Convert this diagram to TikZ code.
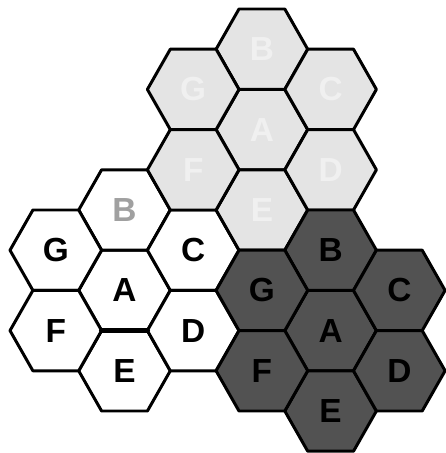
\documentclass[tikz,border=0pt]{standalone}
\usepackage{fontspec}
\setmainfont{Liberation Sans}
\usepackage{tikz}
\usetikzlibrary{calc}
\definecolor{cellink}{RGB}{0,0,0}
\definecolor{darkfill}{RGB}{82,82,82}
\definecolor{lightfill}{RGB}{228,228,228}
\definecolor{fadedtxt}{RGB}{160,160,160}
\definecolor{ghosttxt}{RGB}{240,240,240}
\tikzset{
  hexline/.style={draw=cellink, line width=1.7pt, line join=round},
  celltxt/.style={font=\fontsize{19}{19}\selectfont\bfseries, inner sep=0pt},
  reuseedge/.style={draw=cellink, line width=3pt, line cap=round}
}
% one hexagonal cell: name, centre, fill
\newcommand{\hexcell}[3]{%
  \coordinate (#1) at (#2);
  \draw[hexline, fill=#3]
    ($(#1)+(-45.8,0)$) -- ($(#1)+(-22.9,-40.2)$) -- ($(#1)+(22.9,-40.2)$)
    -- ($(#1)+(45.8,0)$) -- ($(#1)+(22.9,40.2)$) -- ($(#1)+(-22.9,40.2)$) -- cycle;}

\begin{document}
\begin{tikzpicture}[x=0.02cm, y=-0.02cm]
  \useasboundingbox (0,0) rectangle (446,453);

  % three clusters of seven cells: prefix/centre/fill
  \foreach \pre/\cx/\cy/\fl in {w/124.5/290.4/white, l/261.9/129.6/lightfill, d/330.6/330.6/darkfill}{
    \foreach \lab/\dx/\dy in {A/0/0, B/0/-80.4, E/0/80.4, G/-68.7/-40.2, C/68.7/-40.2, F/-68.7/40.2, D/68.7/40.2}{
      \hexcell{\pre\lab}{\cx+\dx,\cy+\dy}{\fl}
    }
  }

  % labels, white cluster
  \node[celltxt] (wAt) at (wA) {A};
  \node[celltxt, text=fadedtxt] (wBt) at (wB) {B};
  \node[celltxt] (wCt) at (wC) {C};
  \node[celltxt] (wDt) at (wD) {D};
  \node[celltxt] (wEt) at (wE) {E};
  \node[celltxt] (wFt) at (wF) {F};
  \node[celltxt] (wGt) at (wG) {G};
  % labels, light cluster (washed out)
  \foreach \lab in {A,B,C,D,E,F,G}
    \node[celltxt, text=ghosttxt] (l\lab t) at (l\lab) {\lab};
  % labels, dark cluster
  \foreach \lab in {A,B,C,D,E,F,G}
    \node[celltxt] (d\lab t) at (d\lab) {\lab};

  % heavy border between A and E
  \draw[reuseedge] ($(wE)+(-22.9,-40.2)$) -- ($(wE)+(22.9,-40.2)$);
\end{tikzpicture}
\end{document}
